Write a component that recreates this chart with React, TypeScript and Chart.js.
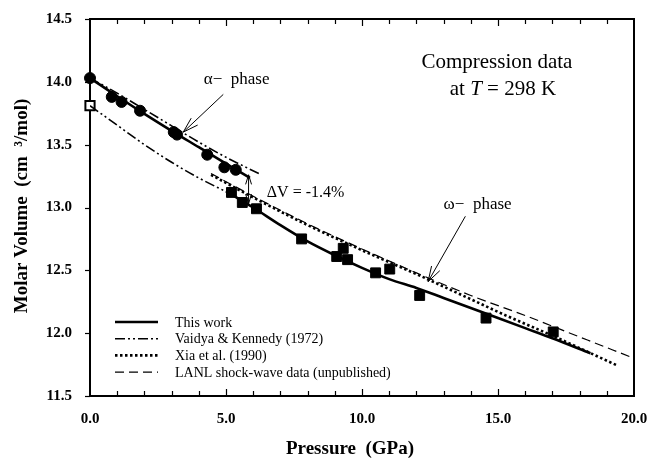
import React, { useEffect, useRef } from "react";
import { Chart, registerables } from "chart.js";
Chart.register(...registerables);

// ---- data ----
const alphaP = [0, 0.8, 1.16, 1.84, 3.08, 3.2, 4.31, 4.94, 5.36];
const alphaV = [14.03, 13.88, 13.84, 13.77, 13.6, 13.58, 13.42, 13.32, 13.3];
const omegaP = [5.2, 5.6, 6.12, 7.78, 9.07, 9.31, 9.47, 10.5, 11.02, 12.12, 14.56, 17.03];
const omegaV = [13.12, 13.04, 12.99, 12.75, 12.61, 12.675, 12.585, 12.48, 12.51, 12.3, 12.12, 12.01];
const omegaZeroP = [0];
const omegaZeroV = [13.81];

const fitAlphaP = [0, 1, 2, 3, 4, 5, 5.88];
const fitAlphaV = [14.03, 13.885, 13.745, 13.61, 13.48, 13.35, 13.235];
const fitOmegaP = [5.0, 6, 7, 8, 9, 10, 11, 12, 13, 14, 15, 16, 17, 18.4];
const fitOmegaV = [13.13, 13.0, 12.86, 12.73, 12.62, 12.52, 12.43, 12.36, 12.28, 12.2, 12.12, 12.04, 11.96, 11.84];
const vkAlphaP = [0, 1, 2, 3, 4, 5, 6.3];
const vkAlphaV = [14.03, 13.91, 13.78, 13.65, 13.52, 13.4, 13.26];
const vkOmegaP = [0, 1, 2, 3, 4, 5.2];
const vkOmegaV = [13.81, 13.655, 13.5, 13.36, 13.235, 13.105];
const xiaP = [4.45, 6, 8, 10, 12, 14, 15.3, 17, 19.36];
const xiaV = [13.26, 13.08, 12.86, 12.66, 12.47, 12.27, 12.14, 11.98, 11.745];
const lanlP = [4.45, 6, 8, 10, 12, 14, 16, 18, 20];
const lanlV = [13.27, 13.09, 12.87, 12.67, 12.48, 12.3, 12.14, 11.97, 11.8];

const xTickLabels = ["0.0", "5.0", "10.0", "15.0", "20.0"];
const yTickLabels = ["11.5", "12.0", "12.5", "13.0", "13.5", "14.0", "14.5"];
const legendLabels = [
  "This work",
  "Vaidya & Kennedy (1972)",
  "Xia et al. (1990)",
  "LANL shock-wave data (unpublished)",
];

// annotation anchors (data coordinates)
const alphaLabel = { text: "α−  phase", p: 5.39, v: 14.015 };
const alphaArrow = { from: [4.9, 13.9], to: [3.43, 13.6] };
const omegaLabel = { text: "ω−  phase", p: 14.25, v: 13.02 };
const omegaArrow = { from: [13.8, 12.93], to: [12.43, 12.41] };
const dvLabel = { text: "ΔV = -1.4%", p: 6.5, v: 13.115 };
const dvArrow = { p: 5.83, v1: 13.26, v2: 13.03 };
const titleLine1 = { text: "Compression data", p: 14.96, v: 14.15 };
const titleLine2 = { p: 15.18, v: 13.94 };

const SERIF = '"Liberation Serif", "DejaVu Serif", serif';

const zip = (xs: number[], ys: number[]) => xs.map((x, i) => ({ x, y: ys[i] }));

const LINE_STYLES = [
  { borderWidth: 2.6, borderDash: [] as number[] },
  { borderWidth: 1.6, borderDash: [10, 3, 2, 3, 2, 3] },
  { borderWidth: 2.6, borderDash: [2.5, 2.5] },
  { borderWidth: 1.2, borderDash: [9, 5] },
];

function lineDs(label: string, xs: number[], ys: number[], style: number) {
  return {
    label,
    data: zip(xs, ys),
    showLine: true,
    pointRadius: 0,
    borderColor: "#000",
    backgroundColor: "#000",
    borderWidth: LINE_STYLES[style].borderWidth,
    borderDash: LINE_STYLES[style].borderDash,
    cubicInterpolationMode: "monotone" as const,
  };
}

function arrowHead(ctx: CanvasRenderingContext2D, x1: number, y1: number, x2: number, y2: number, len: number, ang: number) {
  const a = Math.atan2(y2 - y1, x2 - x1);
  ctx.beginPath();
  ctx.moveTo(x2 - len * Math.cos(a - ang), y2 - len * Math.sin(a - ang));
  ctx.lineTo(x2, y2);
  ctx.lineTo(x2 - len * Math.cos(a + ang), y2 - len * Math.sin(a + ang));
  ctx.stroke();
}

const decor = {
  id: "decor",
  beforeDatasetsDraw(chart: any) {
    const { ctx, chartArea: a } = chart;
    ctx.save();
    ctx.strokeStyle = "#000";
    ctx.lineWidth = 2;
    ctx.strokeRect(a.left, a.top, a.right - a.left, a.bottom - a.top);
    ctx.restore();
  },
  afterDatasetsDraw(chart: any) {
    const { ctx, chartArea: a, scales } = chart;
    const xs = scales.x;
    const ys = scales.y;
    const px = (p: number) => xs.getPixelForValue(p);
    const py = (v: number) => ys.getPixelForValue(v);
    ctx.save();
    ctx.strokeStyle = "#000";
    ctx.fillStyle = "#000";
    ctx.setLineDash([]);

    // x ticks (inward, top & bottom), every 1 GPa
    ctx.lineWidth = 1.2;
    for (let p = 1; p < 20; p++) {
      const x = Math.round(px(p)) + 0.5;
      const len = p % 5 === 0 ? 7 : 5;
      ctx.beginPath();
      ctx.moveTo(x, a.bottom);
      ctx.lineTo(x, a.bottom - len);
      ctx.moveTo(x, a.top);
      ctx.lineTo(x, a.top + len);
      ctx.stroke();
    }
    // y ticks (outward)
    for (let i = 0; i < yTickLabels.length; i++) {
      const y = Math.round(py(parseFloat(yTickLabels[i]))) + 0.5;
      ctx.beginPath();
      ctx.moveTo(a.left - 5, y);
      ctx.lineTo(a.left, y);
      ctx.stroke();
    }

    // annotations
    ctx.textAlign = "center";
    ctx.textBaseline = "middle";
    ctx.font = `17px ${SERIF}`;
    ctx.fillText(alphaLabel.text, px(alphaLabel.p), py(alphaLabel.v));
    ctx.fillText(omegaLabel.text, px(omegaLabel.p), py(omegaLabel.v));
    ctx.textAlign = "left";
    ctx.font = `16px ${SERIF}`;
    ctx.fillText(dvLabel.text, px(dvLabel.p), py(dvLabel.v));

    ctx.lineWidth = 1;
    const drawArrow = (f: number[], t: number[]) => {
      const x1 = px(f[0]), y1 = py(f[1]), x2 = px(t[0]), y2 = py(t[1]);
      ctx.beginPath();
      ctx.moveTo(x1, y1);
      ctx.lineTo(x2, y2);
      ctx.stroke();
      arrowHead(ctx, x1, y1, x2, y2, 16, 0.3);
    };
    drawArrow(alphaArrow.from, alphaArrow.to);
    drawArrow(omegaArrow.from, omegaArrow.to);

    // delta V double arrow
    {
      const x = px(dvArrow.p), y1 = py(dvArrow.v1), y2 = py(dvArrow.v2);
      ctx.beginPath();
      ctx.moveTo(x, y1);
      ctx.lineTo(x, y2);
      ctx.stroke();
      arrowHead(ctx, x, y2, x, y1, 10, 0.3);
      arrowHead(ctx, x, y1, x, y2, 10, 0.3);
    }

    // title text
    ctx.textAlign = "center";
    ctx.font = `21px ${SERIF}`;
    ctx.fillText(titleLine1.text, px(titleLine1.p), py(titleLine1.v));
    {
      const parts = [
        { t: "at ", f: `21px ${SERIF}` },
        { t: "T", f: `italic 21px ${SERIF}` },
        { t: " = 298 K", f: `21px ${SERIF}` },
      ];
      let total = 0;
      for (const s of parts) { ctx.font = s.f; total += ctx.measureText(s.t).width; }
      let x = px(titleLine2.p) - total / 2;
      const y = py(titleLine2.v);
      ctx.textAlign = "left";
      for (const s of parts) { ctx.font = s.f; ctx.fillText(s.t, x, y); x += ctx.measureText(s.t).width; }
    }

    // legend
    const lx0 = a.left + 25, lx1 = a.left + 68, tx = a.left + 85;
    const ly0 = a.bottom - 74;
    ctx.font = `14px ${SERIF}`;
    ctx.textAlign = "left";
    for (let i = 0; i < legendLabels.length; i++) {
      const y = ly0 + i * 16.7;
      ctx.lineWidth = LINE_STYLES[i].borderWidth;
      ctx.setLineDash(LINE_STYLES[i].borderDash);
      ctx.beginPath();
      ctx.moveTo(lx0, y);
      ctx.lineTo(lx1, y);
      ctx.stroke();
      ctx.setLineDash([]);
      ctx.fillText(legendLabels[i], tx, y + 1);
    }

    // axis titles
    ctx.font = `bold 19px ${SERIF}`;
    ctx.textAlign = "center";
    ctx.fillText("Pressure  (GPa)", 350, a.bottom + 53);
    ctx.save();
    ctx.translate(22, 206);
    ctx.rotate(-Math.PI / 2);
    ctx.fillText("Molar Volume  (cm  ³/mol)", 0, 0);
    ctx.restore();

    ctx.restore();
  },
};

export default function App() {
  const ref = useRef<HTMLCanvasElement>(null);
  useEffect(() => {
    if (!ref.current) return;
    const chart = new Chart(ref.current, {
      type: "scatter",
      data: {
        datasets: [
          lineDs("This work α", fitAlphaP, fitAlphaV, 0),
          lineDs("This work ω", fitOmegaP, fitOmegaV, 0),
          lineDs("Vaidya α", vkAlphaP, vkAlphaV, 1),
          lineDs("Vaidya ω", vkOmegaP, vkOmegaV, 1),
          lineDs("Xia", xiaP, xiaV, 2),
          lineDs("LANL", lanlP, lanlV, 3),
          {
            label: "α data",
            data: zip(alphaP, alphaV),
            showLine: false,
            clip: false,
            pointStyle: "circle",
            pointRadius: 5.5,
            pointBackgroundColor: "#000",
            pointBorderColor: "#000",
            pointBorderWidth: 1,
          },
          {
            label: "ω data",
            data: zip(omegaP, omegaV),
            showLine: false,
            clip: false,
            pointStyle: "rect",
            pointRadius: 7,
            pointBackgroundColor: "#000",
            pointBorderColor: "#000",
            pointBorderWidth: 1,
          },
          {
            label: "ω V0",
            data: zip(omegaZeroP, omegaZeroV),
            showLine: false,
            clip: false,
            pointStyle: "rect",
            pointRadius: 6.5,
            pointBackgroundColor: "#fff",
            pointBorderColor: "#000",
            pointBorderWidth: 2,
          },
        ],
      },
      options: {
        animation: false,
        responsive: false,
        devicePixelRatio: 1,
        events: [],
        layout: { padding: { top: 19, right: 17, left: 0, bottom: 0 } },
        plugins: { legend: { display: false }, tooltip: { enabled: false } },
        scales: {
          x: {
            type: "linear",
            min: 0,
            max: 20,
            afterFit: (s: any) => { s.height = 66; s.paddingLeft = 0; s.paddingRight = 0; },
            grid: { display: false, drawTicks: false },
            border: { display: false },
            ticks: {
              stepSize: 5,
              maxRotation: 0,
              padding: 14,
              color: "#000",
              font: { family: SERIF, size: 15, weight: "bold" },
              callback: (_v: any, i: number) => xTickLabels[i],
            },
          },
          y: {
            type: "linear",
            min: 11.5,
            max: 14.5,
            afterFit: (s: any) => { s.width = 90; s.paddingTop = 0; s.paddingBottom = 0; },
            grid: { display: false, drawTicks: false },
            border: { display: false },
            ticks: {
              stepSize: 0.5,
              padding: 18,
              color: "#000",
              font: { family: SERIF, size: 15, weight: "bold" },
              callback: (_v: any, i: number) => yTickLabels[i],
            },
          },
        },
      },
      plugins: [decor],
    } as any);
    return () => chart.destroy();
  }, []);
  return (
    <div style={{ position: "absolute", left: 0, top: 0, width: 651, height: 462, background: "#fff" }}>
      <canvas ref={ref} width={651} height={462} />
    </div>
  );
}
